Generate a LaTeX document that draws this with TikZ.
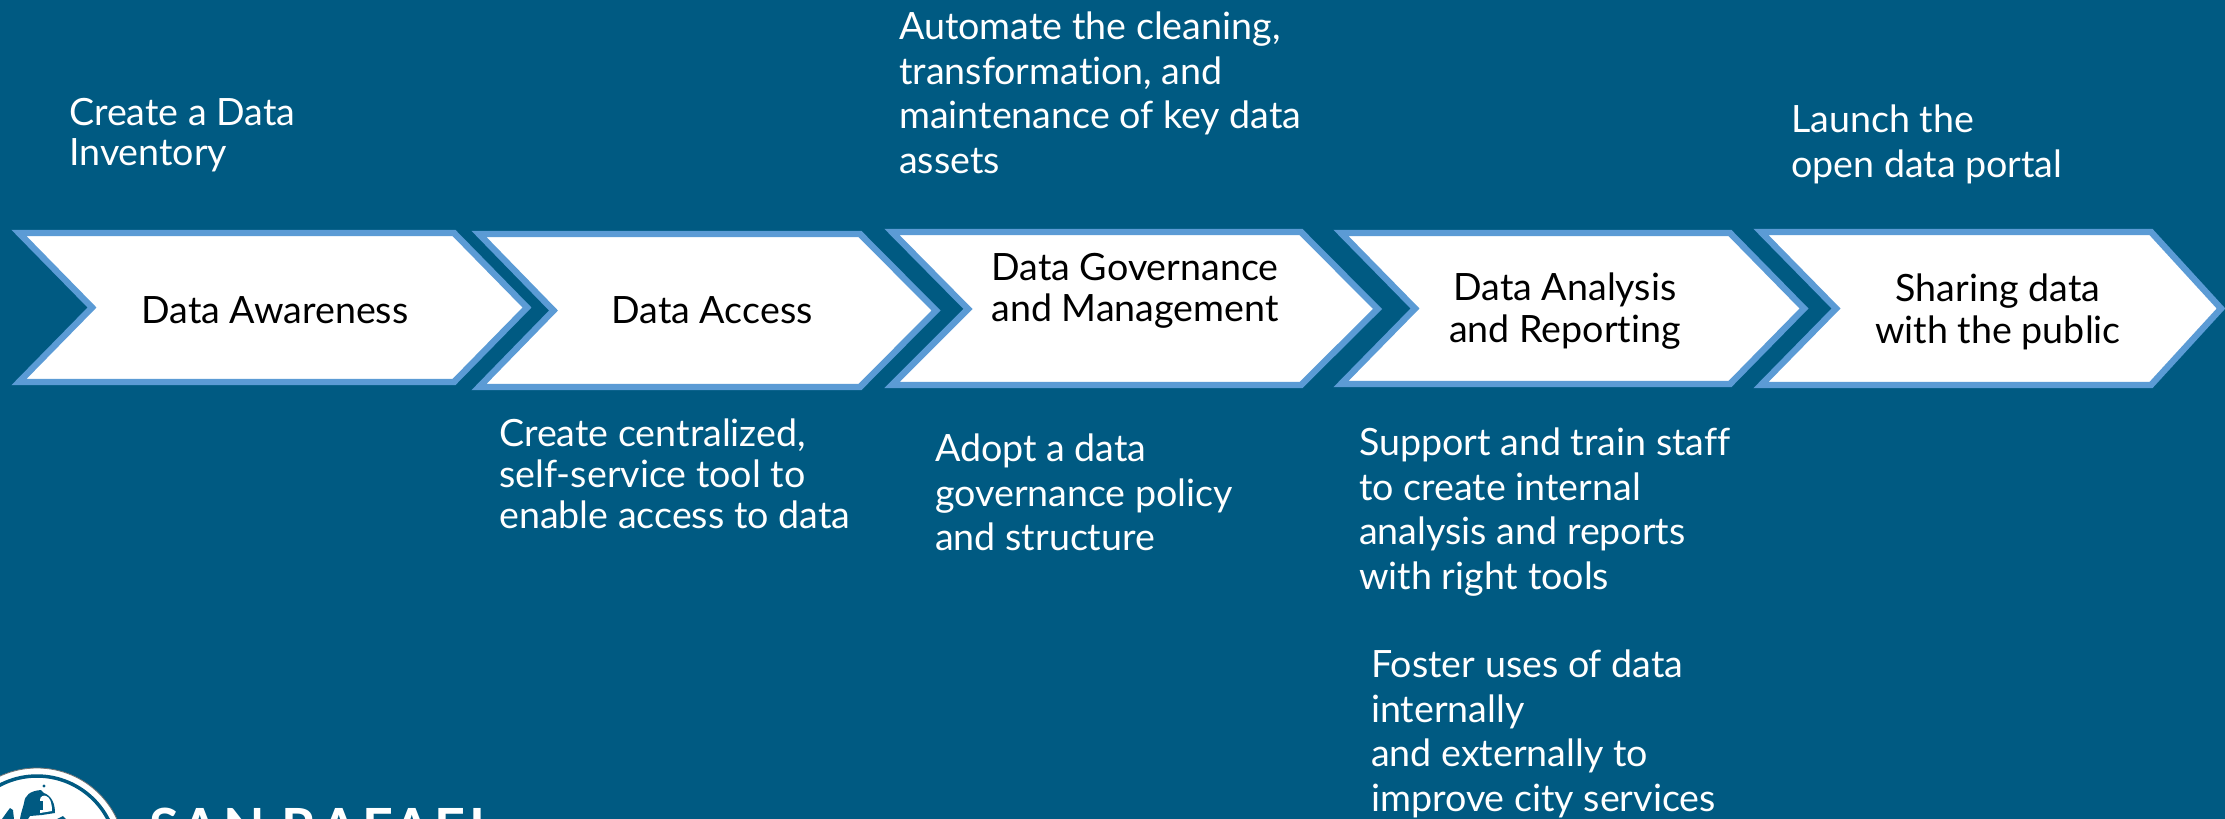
\documentclass[tikz,border=0pt]{standalone}
\usepackage{fontspec}
\setmainfont[Ligatures=NoCommon]{Lato}
\definecolor{bgblue}{HTML}{005A82}
\definecolor{edgeblue}{HTML}{5B9BD5}
\tikzset{
  x=1pt,y=-1pt,
  chev/.style={draw=edgeblue,fill=white,line width=6.4pt,miter limit=10,line join=miter},
  lab/.style={font=\fontsize{37.6}{41.5}\selectfont,text=black,align=center,anchor=center},
  note/.style={font=\fontsize{37.6}{44.5}\selectfont,text=white,align=left,anchor=north west,inner sep=0pt},
}
\begin{document}
\begin{tikzpicture}
\useasboundingbox (0,0) rectangle (2225,819);
\clip (0,0) rectangle (2225,819);
\fill[bgblue] (0,0) rectangle (2225,819);
% chevrons
\draw[chev] (19,233) -- (454,233) -- (527,307.5) -- (454,382) -- (19,382) -- (92,307.5) -- cycle;
\draw[chev] (479,234) -- (860,234) -- (936,310.5) -- (860,387) -- (479,387) -- (553.5,310.5) -- cycle;
\draw[chev] (892,232) -- (1301,232) -- (1377.5,309) -- (1301,385) -- (892,385) -- (968,309) -- cycle;
\draw[chev] (1341,233) -- (1730,233) -- (1804,308.5) -- (1730,384) -- (1341,384) -- (1415,308.5) -- cycle;
\draw[chev] (1761,232) -- (2151,232) -- (2221,308.5) -- (2151,385) -- (1761,385) -- (1836,308.5) -- cycle;
% labels
\node[lab] (a) at (275,310.5) {Data Awareness};
\node[lab] (b) at (712,310.5) {Data Access};
\node[lab] (c) at (1135,291) {Data Governance\\and Management};
\node[lab] (d) at (1565,311) {Data Analysis\\and Reporting};
\node[lab] (e) at (1998,312) {Sharing data\\with the public};
% notes
\node[note,font=\fontsize{37.6}{40}\selectfont] (n1) at (69,98) {Create a Data\\Inventory};
\node[note] (n2) at (899,12) {Automate the cleaning,\\transformation, and\\maintenance of key data\\assets};
\node[note] (n3) at (1791,105) {Launch the\\open data portal};
\node[note,font=\fontsize{37.6}{41}\selectfont] (n4) at (499,419) {Create centralized,\\self-service tool to\\enable access to data};
\node[note] (n5) at (935,434) {Adopt a data\\governance policy\\and structure};
\node[note] (n6) at (1359,428) {Support and train staff\\to create internal\\analysis and reports\\with right tools};
\node[note] (n7) at (1371,650) {Foster uses of data\\internally\\and externally to\\improve city services};
% logo
\fill[white,draw=black!55,line width=0.8pt] (37,856) circle (88);
\draw[bgblue,line width=3.5pt] (37,856) circle (80);
\fill[bgblue] (20,819) .. controls (21,812) and (23,808) .. (24,803) .. controls (25,795) and (30,791) .. (41,790) -- (44,793) .. controls (52,796) and (55,804) .. (55,813) -- (42,815) -- (30,816) -- (28,819) -- cycle;
\fill[bgblue] (44,786) circle (1.7);
\fill[white] (40,813) -- (40,800) .. controls (40,796) and (44,795) .. (46,796) .. controls (50,797) and (52,803) .. (52,811) -- cycle;
\fill[bgblue] (40,801) -- (43,801) -- (43,810) -- (40,810) -- cycle;
\fill[bgblue] (2,819) -- (7,812) -- (10,808) -- (13,810) -- (14,819) -- cycle;
\fill[bgblue] (57,819) -- (63,816) -- (66,819) -- cycle;
\node[font=\bfseries\fontsize{54}{54}\selectfont\addfontfeature{LetterSpace=7.2},text=white,anchor=base west,inner sep=0pt] (logo) at (149,847) {SAN RAFAEL};
\end{tikzpicture}
\end{document}
